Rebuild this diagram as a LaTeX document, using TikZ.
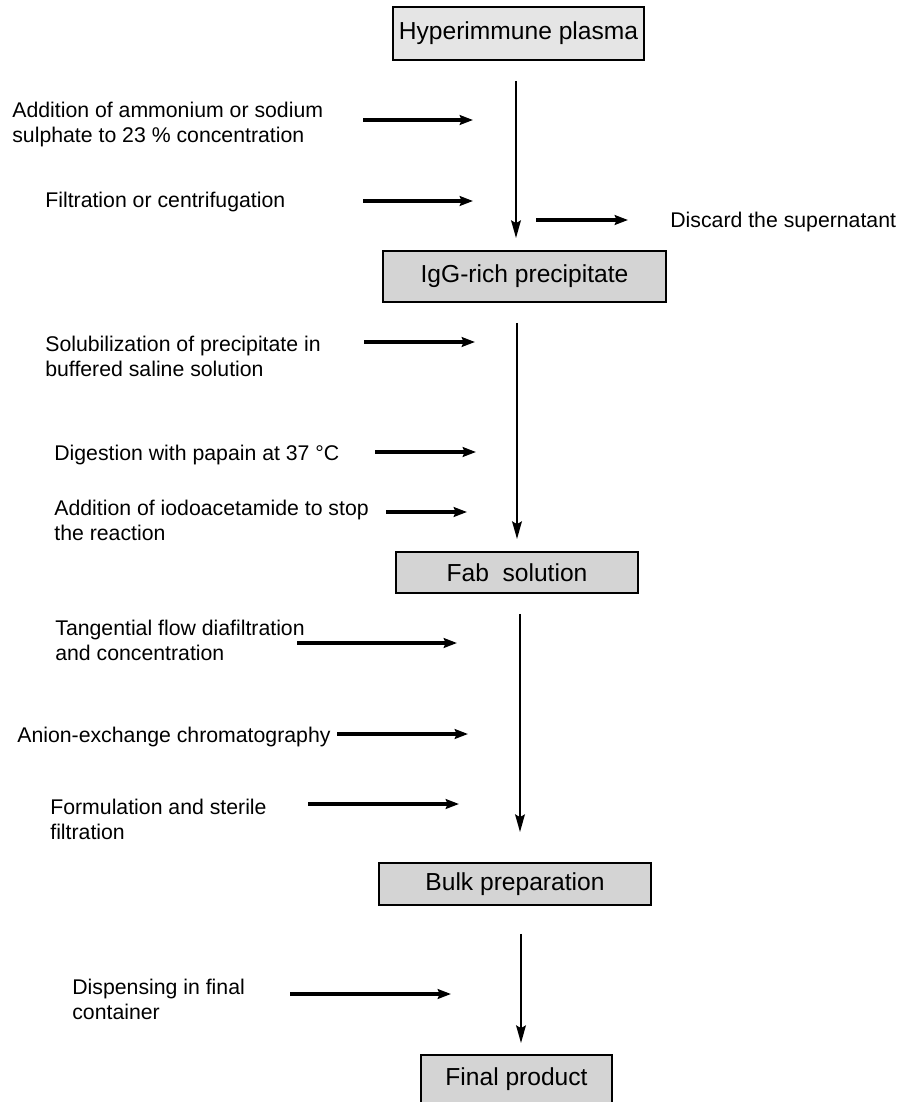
\documentclass[tikz,border=0pt]{standalone}
\usepackage{fontspec}
\setmainfont{Liberation Sans}
\usetikzlibrary{arrows.meta}

\tikzset{
  box/.style={draw, line width=1.1pt, fill=black!17, inner sep=0pt,
    font=\fontsize{14pt}{16pt}\selectfont},
  sidetext/.style={anchor=west, align=left, inner sep=0pt,
    font=\fontsize{12.1pt}{14.2pt}\selectfont},
  flow/.style={line width=1.3pt, -{Stealth[length=10pt, width=5.5pt, inset=1.5pt]}},
  feed/.style={line width=2pt, -{Stealth[length=7.5pt, width=5.5pt, inset=1pt]}}
}

\begin{document}
\begin{tikzpicture}[x=0.02cm, y=-0.02cm]
\useasboundingbox (0,0) rectangle (900,1102);

% process stages
\node[box, fill=black!10, minimum width=5.02cm, minimum height=1.06cm] (hyp) at (518.5,33.5) {Hyperimmune plasma};
\node[box, minimum width=5.66cm, minimum height=1.02cm] (igg) at (524.5,276.5) {IgG-rich precipitate};
\node[box, minimum width=4.84cm, minimum height=0.82cm] (fab) at (517,572.5) {Fab\ \ solution};
\node[box, minimum width=5.44cm, minimum height=0.84cm] (bulk) at (515,884) {Bulk preparation};
\node[box, minimum width=3.82cm, minimum height=0.96cm] (final) at (516.5,1079) {Final product};

% steps beside the line
\node[sidetext] (addsalt) at (12,124.5) {Addition of ammonium or sodium\\sulphate to 23~\% concentration};
\node[sidetext] (filt) at (45,202) {Filtration or centrifugation};
\node[sidetext] (discard) at (670,222) {Discard the supernatant};
\node[sidetext] (solub) at (45,356) {Solubilization of precipitate in\\buffered saline solution};
\node[sidetext] (digest) at (54,455) {Digestion with papain at 37 °C};
\node[sidetext] (iodo) at (54,520) {Addition of iodoacetamide to stop\\the reaction};
\node[sidetext] (tff) at (55,640) {Tangential flow diafiltration\\and concentration};
\node[sidetext] (aiex) at (17,737) {Anion-exchange chromatography};
\node[sidetext] (formul) at (50,819) {Formulation and sterile\\filtration};
\node[sidetext] (dispense) at (72,999) {Dispensing in final\\container};

\foreach \name/\xa/\xb/\y in {addsalt/363/473/120, filt/363/473/201, discard/536/628/220,
    solub/364/475/342, digest/375/476/452, iodo/386/467/512, tff/297/457/643,
    aiex/337/468/734, formul/308/459/804, dispense/290/451/994} {
  \coordinate (\name-a) at (\xa,\y);
  \coordinate (\name-b) at (\xb,\y);
  \draw[feed] (\name-a) -- (\name-b);
}

% main line
\draw[flow] ([xshift=-0.05cm, yshift=-0.4cm]hyp.south) -- ([xshift=-0.05cm, yshift=0.24cm]hyp.south |- igg.north);
\draw[flow] ([yshift=-0.4cm]fab.north |- igg.south) -- ([yshift=0.24cm]fab.north);
\draw[flow] ([xshift=0.06cm, yshift=-0.4cm]fab.south) -- ([xshift=0.06cm, yshift=0.6cm]fab.south |- bulk.north);
\draw[flow] ([xshift=0.09cm, yshift=-0.56cm]final.north |- bulk.south) -- ([xshift=0.09cm, yshift=0.22cm]final.north);
\end{tikzpicture}
\end{document}
